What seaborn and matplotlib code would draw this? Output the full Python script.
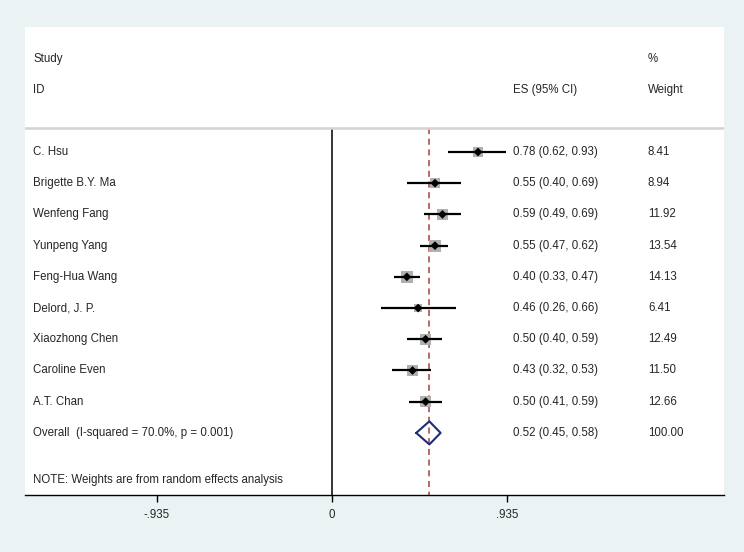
import numpy as np
import pandas as pd
import matplotlib
matplotlib.use("Agg")
import matplotlib.pyplot as plt
import seaborn as sns

# data
studies = ["C. Hsu", "Brigette B.Y. Ma", "Wenfeng Fang", "Yunpeng Yang", "Feng-Hua Wang",
           "Delord, J. P.", "Xiaozhong Chen", "Caroline Even", "A.T. Chan"]
es = [0.78, 0.55, 0.59, 0.55, 0.40, 0.46, 0.50, 0.43, 0.50]
lo = [0.62, 0.40, 0.49, 0.47, 0.33, 0.26, 0.40, 0.32, 0.41]
hi = [0.93, 0.69, 0.69, 0.62, 0.47, 0.66, 0.59, 0.53, 0.59]
weights = [8.41, 8.94, 11.92, 13.54, 14.13, 6.41, 12.49, 11.50, 12.66]
overall = [0.52, 0.45, 0.58]
overall_label = "Overall  (I-squared = 70.0%, p = 0.001)"
tick_vals = [-0.935, 0, 0.935]
tick_labels = ["-.935", "0", ".935"]

df = pd.DataFrame({"study": studies, "es": es, "lo": lo, "hi": hi, "w": weights})
df["row"] = np.arange(len(df))

sns.set_style("white")
plt.rcParams["font.family"] = ["Liberation Sans", "DejaVu Sans"]
bg = "#EAF2F3"

fig = plt.figure(figsize=(7.44, 5.52), dpi=100, facecolor=bg)
ax = fig.add_axes([25 / 744, 57 / 552, 699 / 744, 468 / 552])
ax.set_facecolor("white")

n = len(df)
ov_row = n
sep_y = -0.77
ymax = 10.99
ax.set_xlim(-1.640, 2.094)
ax.set_ylim(ymax, -4.006)

# reference lines
ax.vlines(0, sep_y, ymax, color="black", lw=1.1, zorder=1)
ax.vlines(overall[0], sep_y, ymax, color="#a5403f", lw=1.1, ls=(0, (4, 3)), zorder=1)
ax.axhline(sep_y, color="#d3d3d3", lw=1.8, zorder=1)

# weight boxes, CI lines, point markers
side_px = 3.2 * np.sqrt(df["w"])
df["box"] = (side_px * 72 / 100) ** 2
sns.scatterplot(data=df, x="es", y="row", size="box", sizes=(df["box"].min(), df["box"].max()),
                marker="s", color="#b0b0b0", edgecolor="none", legend=False, ax=ax, zorder=2)
ax.hlines(df["row"], df["lo"], df["hi"], color="black", lw=1.6, zorder=3)
sns.scatterplot(data=df, x="es", y="row", marker="D", color="black", s=20, edgecolor="none",
                legend=False, ax=ax, zorder=4)

# overall diamond
h = 0.37
dx = [overall[1], overall[0], overall[2], overall[0], overall[1]]
dy = [ov_row, ov_row - h, ov_row, ov_row + h, ov_row]
ax.plot(dx, dy, color="#1f2a7a", lw=1.5, zorder=4)

# text columns
fs = 8.3
x_lab, x_es, x_w = -1.597, 0.967, 1.688
ax.text(x_lab, -2.98, "Study", fontsize=fs, va="center")
ax.text(x_lab, -1.99, "ID", fontsize=fs, va="center")
ax.text(x_es, -1.99, "ES (95% CI)", fontsize=fs, va="center")
ax.text(x_w, -2.98, "%", fontsize=fs, va="center")
ax.text(x_w, -1.99, "Weight", fontsize=fs, va="center")
for _, r in df.iterrows():
    ax.text(x_lab, r["row"], r["study"], fontsize=fs, va="center")
    ax.text(x_es, r["row"], f"{r['es']:.2f} ({r['lo']:.2f}, {r['hi']:.2f})", fontsize=fs, va="center")
    ax.text(x_w, r["row"], f"{r['w']:.2f}", fontsize=fs, va="center")
ax.text(x_lab, ov_row, overall_label, fontsize=fs, va="center")
ax.text(x_es, ov_row, f"{overall[0]:.2f} ({overall[1]:.2f}, {overall[2]:.2f})", fontsize=fs, va="center")
ax.text(x_w, ov_row, "100.00", fontsize=fs, va="center")
ax.text(x_lab, 10.5, "NOTE: Weights are from random effects analysis", fontsize=fs, va="center")

# axis styling
for s in ["top", "right", "left"]:
    ax.spines[s].set_visible(False)
ax.spines["bottom"].set_color("black")
ax.spines["bottom"].set_linewidth(1.0)
ax.set_yticks([])
ax.set_xticks(tick_vals)
ax.set_xticklabels(tick_labels, fontsize=fs)
ax.tick_params(axis="x", direction="out", length=5, width=1, color="black", pad=5, bottom=True)
ax.set_xlabel("")
ax.set_ylabel("")

fig.savefig("out.png", dpi=100, facecolor=bg)
